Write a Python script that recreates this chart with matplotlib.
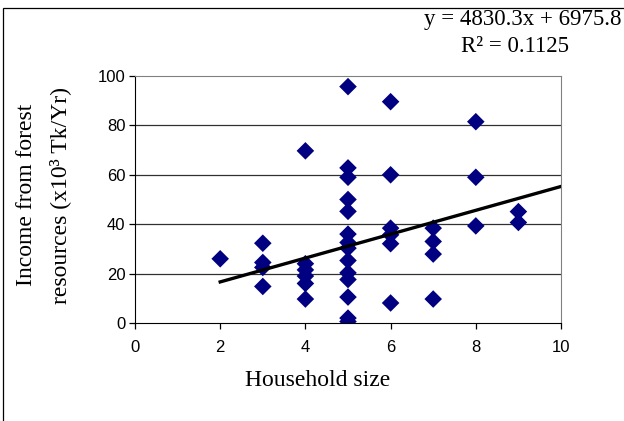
import numpy as np
import matplotlib.pyplot as plt
from matplotlib.patches import Rectangle

# household size and income (x10^3 Tk/Yr)
size = [2,
        3, 3, 3, 3,
        4, 4, 4, 4, 4, 4,
        5, 5, 5, 5, 5, 5, 5, 5, 5, 5, 5, 5, 5, 5,
        6, 6, 6, 6, 6, 6,
        7, 7, 7, 7,
        8, 8, 8,
        9, 9]
income = [26.0,
          32.3, 24.5, 22.5, 14.8,
          69.7, 24.0, 21.5, 19.0, 16.0, 9.7,
          95.7, 62.8, 59.0, 50.0, 45.2, 36.0, 32.6, 30.3, 25.3, 20.3, 17.6, 10.5, 2.0, 0.6,
          89.6, 60.0, 38.4, 35.7, 32.1, 8.1,
          38.4, 33.0, 27.9, 9.7,
          81.5, 59.0, 39.3,
          45.1, 40.7]

slope, intercept = 4830.3, 6975.8   # Tk per person, Tk
r2 = 0.1125

fig = plt.figure(figsize=(6.24, 4.21), dpi=100)
fig.patches.append(Rectangle((3/624, -0.1), 1.2, 1 - 8/421 + 0.1, transform=fig.transFigure,
                             fill=False, ec='black', lw=0.9))
ax = fig.add_axes([135/624, 1 - 323/421, 426/624, 247/421])

ax.set_xlim(0, 10)
ax.set_ylim(0, 100)
ax.set_xticks(range(0, 11, 2))
ax.set_yticks(range(0, 101, 20))
for v in range(20, 100, 20):
    ax.axhline(v, color='#303030', lw=0.9, zorder=0)

ax.scatter(size, income, marker='D', s=80, color='#000080', edgecolors='none', zorder=3)

xs = np.array([2, 10])
ax.plot(xs, (slope * xs + intercept) / 1000, color='black', lw=2.4, zorder=4)

for side in ['top', 'right']:
    ax.spines[side].set_color('#808080')
for side in ['left', 'bottom']:
    ax.spines[side].set_color('black')
ax.tick_params(direction='out', length=4, width=0.9, labelsize=12, pad=3)
for lab in ax.get_xticklabels() + ax.get_yticklabels():
    lab.set_fontfamily('Liberation Sans')
ax.tick_params(axis='x', pad=8)

serif = dict(family='Liberation Serif', fontsize=17, ha='center', va='center')
fig.text(318/624, 1 - 380/421, 'Household size', **serif)
fig.text(27/624, 1 - 195/421, 'Income from forest', rotation=90, **serif)
fig.text(60/624, 1 - 195/421, 'resources (x10³ Tk/Yr)', rotation=90, **serif)
serif['fontsize'] = 16.5
fig.text(523/624, 1 - 19/421, 'y = %.1fx + %.1f' % (slope, intercept), **serif)
fig.text(515/624, 1 - 47/421, 'R² = %.4f' % r2, **serif)

fig.savefig('out.png', dpi=100)
